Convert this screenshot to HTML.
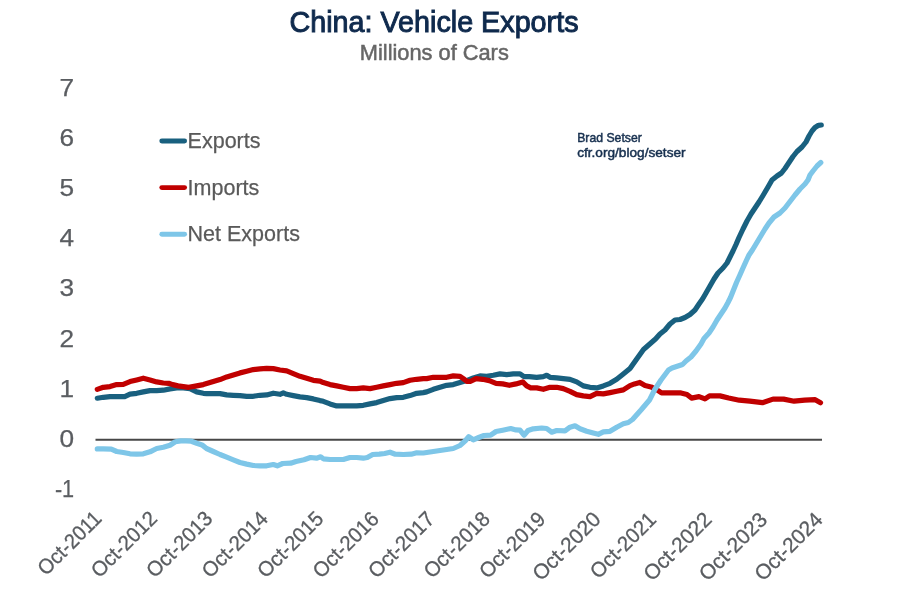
<!DOCTYPE html>
<html><head><meta charset="utf-8"><style>
html,body{margin:0;padding:0;background:#fff;}
body{width:900px;height:600px;overflow:hidden;}
svg{display:block;filter:blur(0.3px);}
text{font-family:"Liberation Sans",Arial,sans-serif;}
.yl{font-size:23.5px;fill:#5a5d61;stroke:#5a5d61;stroke-width:0.25px;}
.xl{font-size:21px;fill:#5a5d61;stroke:#5a5d61;stroke-width:0.3px;}
.lg{font-size:21.5px;fill:#5a5a5a;stroke:#5a5a5a;stroke-width:0.25px;}
</style></head><body>
<svg width="900" height="600" viewBox="0 0 900 600">
<rect width="900" height="600" fill="#fff"/>
<text x="434" y="31.5" text-anchor="middle" font-size="30" fill="#0f2a4d" stroke="#0f2a4d" stroke-width="1.0" textLength="289" lengthAdjust="spacingAndGlyphs">China: Vehicle Exports</text>
<text x="434.3" y="59.6" text-anchor="middle" font-size="21.3" fill="#666666" stroke="#666666" stroke-width="0.5" textLength="149" lengthAdjust="spacingAndGlyphs">Millions of Cars</text>
<text x="74.2" y="497.4" text-anchor="end" class="yl" textLength="19.3" lengthAdjust="spacingAndGlyphs">-1</text>
<text x="74.2" y="447.2" text-anchor="end" class="yl" textLength="14.6" lengthAdjust="spacingAndGlyphs">0</text>
<text x="74.2" y="396.9" text-anchor="end" class="yl" textLength="14.6" lengthAdjust="spacingAndGlyphs">1</text>
<text x="74.2" y="346.7" text-anchor="end" class="yl" textLength="14.6" lengthAdjust="spacingAndGlyphs">2</text>
<text x="74.2" y="296.4" text-anchor="end" class="yl" textLength="14.6" lengthAdjust="spacingAndGlyphs">3</text>
<text x="74.2" y="246.2" text-anchor="end" class="yl" textLength="14.6" lengthAdjust="spacingAndGlyphs">4</text>
<text x="74.2" y="195.9" text-anchor="end" class="yl" textLength="14.6" lengthAdjust="spacingAndGlyphs">5</text>
<text x="74.2" y="145.7" text-anchor="end" class="yl" textLength="14.6" lengthAdjust="spacingAndGlyphs">6</text>
<text x="74.2" y="95.5" text-anchor="end" class="yl" textLength="14.6" lengthAdjust="spacingAndGlyphs">7</text>

<text transform="translate(102.90,519.70) rotate(-45)" text-anchor="end" class="xl" textLength="80.3" lengthAdjust="spacingAndGlyphs">Oct-2011</text>
<text transform="translate(158.37,519.80) rotate(-45)" text-anchor="end" class="xl" textLength="83.4" lengthAdjust="spacingAndGlyphs">Oct-2012</text>
<text transform="translate(213.84,519.90) rotate(-45)" text-anchor="end" class="xl" textLength="83.4" lengthAdjust="spacingAndGlyphs">Oct-2013</text>
<text transform="translate(269.31,520.00) rotate(-45)" text-anchor="end" class="xl" textLength="83.4" lengthAdjust="spacingAndGlyphs">Oct-2014</text>
<text transform="translate(324.78,520.10) rotate(-45)" text-anchor="end" class="xl" textLength="83.4" lengthAdjust="spacingAndGlyphs">Oct-2015</text>
<text transform="translate(380.25,520.20) rotate(-45)" text-anchor="end" class="xl" textLength="83.4" lengthAdjust="spacingAndGlyphs">Oct-2016</text>
<text transform="translate(435.72,520.30) rotate(-45)" text-anchor="end" class="xl" textLength="83.4" lengthAdjust="spacingAndGlyphs">Oct-2017</text>
<text transform="translate(491.18,520.40) rotate(-45)" text-anchor="end" class="xl" textLength="83.4" lengthAdjust="spacingAndGlyphs">Oct-2018</text>
<text transform="translate(546.65,520.50) rotate(-45)" text-anchor="end" class="xl" textLength="83.4" lengthAdjust="spacingAndGlyphs">Oct-2019</text>
<text transform="translate(602.12,520.60) rotate(-45)" text-anchor="end" class="xl" textLength="86.4" lengthAdjust="spacingAndGlyphs">Oct-2020</text>
<text transform="translate(657.59,520.70) rotate(-45)" text-anchor="end" class="xl" textLength="83.4" lengthAdjust="spacingAndGlyphs">Oct-2021</text>
<text transform="translate(713.06,520.80) rotate(-45)" text-anchor="end" class="xl" textLength="86.4" lengthAdjust="spacingAndGlyphs">Oct-2022</text>
<text transform="translate(768.53,520.90) rotate(-45)" text-anchor="end" class="xl" textLength="86.4" lengthAdjust="spacingAndGlyphs">Oct-2023</text>
<text transform="translate(824.00,521.00) rotate(-45)" text-anchor="end" class="xl" textLength="86.4" lengthAdjust="spacingAndGlyphs">Oct-2024</text>

<line x1="95.5" y1="439.8" x2="822" y2="439.8" stroke="#474747" stroke-width="2"/>
<polyline points="97.3,398.2 103.3,397.3 110.0,396.6 116.7,396.6 124.7,396.6 130.0,394.2 136.7,393.3 143.3,391.9 150.0,390.6 156.7,390.6 163.3,390.2 170.0,388.9 176.7,387.9 183.3,387.9 190.0,388.6 196.7,391.9 203.3,393.3 206.7,393.6 213.3,393.6 220.0,393.6 226.7,394.9 233.3,395.3 240.0,395.6 246.7,396.3 253.3,396.3 260.0,395.3 266.7,394.9 273.3,393.2 280.0,394.3 283.3,392.9 286.7,394.3 293.3,395.6 300.0,396.9 306.7,397.6 313.3,398.9 320.0,400.6 323.3,401.3 330.0,403.9 336.7,405.9 343.3,405.9 350.0,405.9 356.7,405.9 363.3,405.3 370.0,403.9 376.7,402.6 383.3,400.6 390.0,398.6 396.7,397.6 403.3,397.3 410.0,395.6 416.7,393.3 423.3,392.6 426.7,391.9 433.3,389.3 440.0,387.3 446.7,385.3 453.3,384.6 460.0,382.6 466.7,380.6 473.3,377.9 480.0,375.9 486.7,376.3 493.3,375.3 500.0,373.9 506.7,374.6 513.3,373.9 520.0,373.9 524.0,376.6 529.3,376.6 536.7,377.3 543.3,376.6 546.7,375.3 550.0,377.3 556.7,377.9 563.3,378.6 570.0,379.3 576.7,381.9 583.3,385.9 590.0,387.3 596.7,387.9 603.3,385.9 610.0,383.3 616.7,379.3 623.3,374.0 630.0,368.5 636.0,360.0 643.5,349.5 649.5,344.2 655.5,339.0 660.0,334.0 665.0,330.0 670.0,324.0 675.0,320.0 680.0,319.5 685.0,317.5 690.0,314.5 695.0,310.0 699.0,304.0 702.5,299.0 706.0,293.0 710.0,286.0 714.0,279.0 718.0,273.0 723.0,268.0 727.0,263.0 730.0,257.0 733.0,251.0 736.0,244.5 739.0,237.5 743.0,229.0 747.0,221.0 751.0,214.0 755.0,208.0 759.0,202.0 763.0,195.5 768.0,187.0 772.0,180.0 777.0,176.0 781.5,173.0 785.0,168.5 789.0,162.5 793.0,156.5 797.0,151.5 802.0,147.0 806.0,142.0 809.0,136.0 812.0,131.0 815.0,127.5 818.5,125.3 821.3,125.0" fill="none" stroke="#19607f" stroke-width="5.2" stroke-linejoin="round" stroke-linecap="round"/>
<polyline points="97.3,389.4 103.3,387.3 110.0,386.6 116.7,384.6 123.3,384.3 130.0,381.6 136.7,379.9 143.3,378.2 150.0,379.9 156.7,381.9 163.3,383.0 168.7,383.3 172.7,384.6 178.0,385.9 183.3,386.6 188.7,387.3 196.7,385.9 203.3,384.6 213.3,381.6 220.0,379.6 226.7,376.9 233.3,374.9 240.0,372.9 246.7,371.3 253.3,369.6 260.0,368.9 266.7,368.3 273.3,368.6 280.0,370.0 286.7,370.9 293.3,373.6 300.0,376.3 306.7,378.3 313.3,380.3 320.0,381.1 323.3,382.6 330.0,384.6 336.7,385.9 343.3,387.3 350.0,388.6 356.7,388.6 363.3,387.9 370.0,388.6 376.7,387.3 383.3,385.9 390.0,384.6 396.7,383.3 403.3,382.6 410.0,380.3 416.7,379.3 423.3,378.6 426.7,378.6 433.3,377.3 440.0,377.3 446.7,377.3 453.3,375.9 460.0,376.3 463.3,378.6 466.7,381.3 470.7,381.3 476.0,378.6 482.7,379.3 489.3,380.6 496.0,383.3 502.7,383.9 509.3,385.3 516.0,383.9 522.7,381.9 526.7,385.9 530.7,387.9 536.7,387.9 543.3,389.3 550.0,387.3 556.7,387.3 563.3,388.6 570.0,391.3 576.7,394.6 583.3,395.9 590.0,396.6 596.7,393.3 603.3,393.9 610.0,392.6 616.7,391.3 623.3,389.9 630.0,385.6 634.5,383.9 639.8,382.4 645.0,385.4 651.0,386.9 657.0,389.9 661.5,392.9 669.0,392.9 681.0,392.9 687.0,394.4 691.5,398.1 699.0,396.6 705.0,398.9 709.5,395.9 720.0,395.9 728.7,398.0 739.2,400.2 749.8,401.2 762.4,402.7 773.0,399.1 783.6,399.1 794.1,401.2 804.7,400.2 815.2,399.7 820.5,402.7" fill="none" stroke="#c00000" stroke-width="5.2" stroke-linejoin="round" stroke-linecap="round"/>
<polyline points="97.3,448.9 103.3,448.9 111.3,449.2 116.7,451.5 123.3,452.5 130.0,453.8 136.7,454.2 143.3,453.8 150.0,451.8 156.7,448.5 163.3,447.2 170.0,445.2 175.3,441.8 180.7,440.9 186.0,440.9 191.3,441.2 196.7,443.2 202.0,444.9 206.5,448.5 213.3,451.5 220.0,454.5 226.7,457.2 233.3,459.8 240.0,462.5 246.7,464.1 253.3,465.5 260.0,465.8 266.7,465.8 273.3,464.5 277.3,465.8 282.7,463.5 290.7,463.2 296.0,461.5 304.0,459.8 310.5,457.5 316.5,458.2 320.7,456.8 323.3,458.8 330.0,459.5 336.7,459.5 343.3,459.5 350.0,457.5 356.7,457.5 363.3,458.2 367.3,457.5 372.7,454.5 379.3,454.2 384.7,453.5 390.0,452.2 395.3,454.2 403.3,454.5 411.3,454.2 416.7,452.8 423.3,453.0 430.0,452.0 440.0,450.5 446.7,449.5 453.3,448.5 460.0,445.5 465.3,440.8 468.7,436.8 473.3,439.8 478.7,437.5 484.0,435.5 490.7,435.2 496.0,431.5 502.7,430.2 510.7,428.5 516.0,429.9 520.0,430.2 524.0,435.2 528.0,430.5 533.3,428.8 541.7,428.0 546.7,428.5 551.7,432.2 556.7,430.5 565.0,430.8 570.0,427.2 575.0,425.8 580.0,428.8 586.7,431.3 593.3,433.0 598.3,434.3 603.3,431.8 610.0,431.3 616.7,427.2 623.3,423.8 628.3,422.5 632.5,419.5 641.0,410.0 649.5,400.0 654.5,390.0 661.0,380.0 668.5,370.0 672.0,368.0 678.0,366.0 682.5,364.5 686.0,361.0 691.0,357.0 696.0,351.0 701.0,344.0 704.0,338.5 709.0,333.0 713.0,327.0 717.0,320.0 721.0,314.0 725.0,308.0 728.0,302.5 730.5,297.5 733.5,290.0 736.5,282.5 739.9,275.0 743.2,267.5 746.6,260.0 749.0,255.0 752.4,250.0 756.9,242.5 761.4,235.0 765.0,229.0 769.0,223.0 774.0,217.0 780.0,213.0 785.0,208.0 790.0,201.5 795.0,195.0 800.0,189.0 805.0,184.0 808.0,180.0 810.0,175.0 813.0,171.0 817.0,166.0 820.8,162.5" fill="none" stroke="#7ec6e8" stroke-width="5.2" stroke-linejoin="round" stroke-linecap="round"/>
<line x1="161.8" y1="141" x2="184.6" y2="141" stroke="#19607f" stroke-width="4.9" stroke-linecap="round"/>
<line x1="161.8" y1="187.6" x2="184.6" y2="187.6" stroke="#c00000" stroke-width="4.9" stroke-linecap="round"/>
<line x1="161.8" y1="234.3" x2="184.6" y2="234.3" stroke="#7ec6e8" stroke-width="4.9" stroke-linecap="round"/>
<text x="187.6" y="148.2" class="lg">Exports</text>
<text x="187.6" y="194.8" class="lg">Imports</text>
<text x="187.6" y="241.4" class="lg">Net Exports</text>
<text x="577.2" y="141.7" font-size="13.3" fill="#17304f" stroke="#17304f" stroke-width="0.5" textLength="64.6" lengthAdjust="spacingAndGlyphs">Brad Setser</text>
<text x="577.2" y="156.8" font-size="13.3" fill="#17304f" stroke="#17304f" stroke-width="0.5" textLength="108.4" lengthAdjust="spacingAndGlyphs">cfr.org/blog/setser</text>
</svg>
</body></html>
